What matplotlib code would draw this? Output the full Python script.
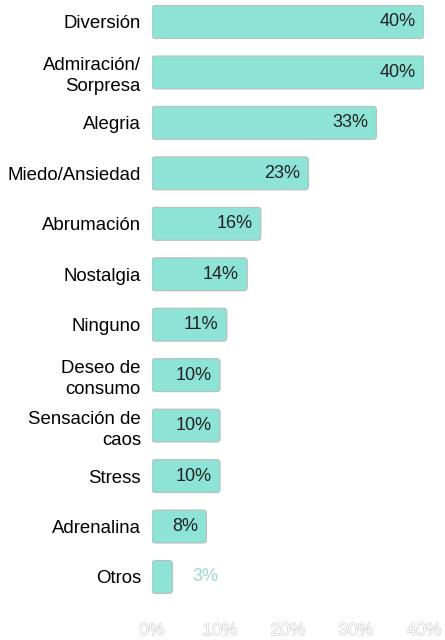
import matplotlib.pyplot as plt
import matplotlib.patheffects as pe
from matplotlib.patches import FancyBboxPatch

categories = [
    "Diversión",
    "Admiración/\nSorpresa",
    "Alegria",
    "Miedo/Ansiedad",
    "Abrumación",
    "Nostalgia",
    "Ninguno",
    "Deseo de\nconsumo",
    "Sensación de\ncaos",
    "Stress",
    "Adrenalina",
    "Otros",
]
values = [40, 40, 33, 23, 16, 14, 11, 10, 10, 10, 8, 3]
tick_values = [0, 10, 20, 30, 40]
tick_labels = ["0%", "10%", "20%", "30%", "40%"]

bar_color = "#8de3d6"
edge_color = "#b4c2bf"
text_dark = "#222222"

plt.rcParams["font.family"] = ["Liberation Sans", "DejaVu Sans"]

W, H = 445, 640
fig = plt.figure(figsize=(W / 100, H / 100), dpi=100)

# axes placed in pixel terms: x 0..40 maps to 152..424 px
row_px = 50.45
first_center = 22
top_y = -first_center / row_px
bottom_y = 11.5
ax_bottom_px = first_center + bottom_y * row_px
ax = fig.add_axes([152 / W, 1 - ax_bottom_px / H, (424 - 152) / W, ax_bottom_px / H])

y = list(range(len(categories)))
bars = ax.barh(y, values, height=0.65, color=bar_color)

ax.set_xlim(0, 40)
ax.set_ylim(bottom_y, top_y)

# swap plain rectangles for slightly rounded boxes
x_px = (424 - 152) / 40
for b in bars:
    b.set_visible(False)
    box = FancyBboxPatch((b.get_x(), b.get_y()), b.get_width(), b.get_height(),
                         boxstyle="round,pad=0,rounding_size=0.45",
                         mutation_aspect=x_px / row_px,
                         facecolor=bar_color, edgecolor=edge_color, linewidth=0.9)
    ax.add_patch(box)

for i, v in enumerate(values):
    label = f"{v}%"
    if v >= 5:
        ax.annotate(label, (v, i), xytext=(-6, 0), textcoords="offset points",
                    ha="right", va="center", fontsize=13, color=text_dark)
    else:
        ax.annotate(label, (v, i), xytext=(14, 0), textcoords="offset points",
                    ha="left", va="center", fontsize=13, color="#9fd8cf")

ax.set_yticks(y)
ax.set_yticklabels(categories, fontsize=13.4, color="black", linespacing=1.3,
                   ha="right")
ax.tick_params(axis="y", length=0, pad=8)

ax.set_xticks(tick_values)
ax.set_xticklabels(tick_labels, fontsize=12.5, color="white")
ax.tick_params(axis="x", length=0, pad=15)
for t in ax.get_xticklabels():
    t.set_path_effects([pe.Stroke(linewidth=0.8, foreground="#cccccc"), pe.Normal()])

for s in ax.spines.values():
    s.set_visible(False)
ax.set_facecolor("none")

fig.savefig("out.png", dpi=100)
